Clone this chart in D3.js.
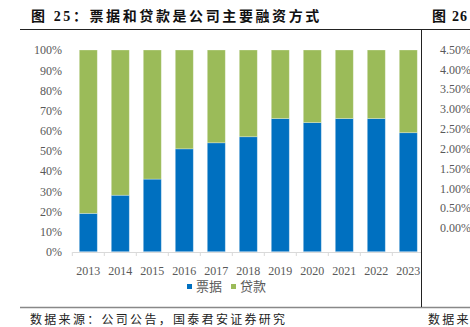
<!DOCTYPE html>
<html><head><meta charset="utf-8">
<script src="https://cdn.jsdelivr.net/npm/d3@7"></script>
<style>body{margin:0;background:#fff}svg{display:block}</style>
</head><body>
<script>
const years = ["2013","2014","2015","2016","2017","2018","2019","2020","2021","2022","2023"];
const bills = [19, 28, 36, 51, 54, 57, 66, 64, 66, 66, 59];
const loans = [81, 72, 64, 49, 46, 43, 34, 36, 34, 34, 41];
const seriesNames = ["票据", "贷款"];
const seriesColors = ["#0070C0", "#9BBB59"];
const yTicks = [0,10,20,30,40,50,60,70,80,90,100];
const rightTicks = [0,0.5,1,1.5,2,2.5,3,3.5,4,4.5];
const titleText = "图 25：票据和贷款是公司主要融资方式";
const title2Text = "图 26";
const sourceText = "数据来源：公司公告，国泰君安证券研究";
const source2Text = "数据来";

const W = 470, H = 327;
const svg = d3.select("body").append("svg").attr("width", W).attr("height", H);
const serif = "'Liberation Serif','Times New Roman','Noto Sans CJK SC',serif";
const gray = "#595959";

// frame lines
svg.append("line").attr("x1",20).attr("x2",W).attr("y1",29.5).attr("y2",29.5).attr("stroke","#222").attr("stroke-width",1);
svg.append("line").attr("x1",20).attr("x2",W).attr("y1",307.5).attr("y2",307.5).attr("stroke","#888").attr("stroke-width",1.5);
svg.append("line").attr("x1",421.5).attr("x2",421.5).attr("y1",29).attr("y2",307).attr("stroke","#222").attr("stroke-width",1);

// titles
svg.append("text").attr("x",31).attr("y",21).attr("font-family",serif).attr("font-weight","bold")
  .attr("font-size",14).attr("letter-spacing",2.6).attr("fill","#111").text(titleText);
svg.append("text").attr("x",432).attr("y",21).attr("font-family",serif).attr("font-weight","bold")
  .attr("font-size",14).attr("letter-spacing",1.2).attr("fill","#111").text(title2Text);
svg.append("text").attr("x",30).attr("y",324).attr("font-family",serif)
  .attr("font-size",12).attr("letter-spacing",2.3).attr("fill","#222").text(sourceText);
svg.append("text").attr("x",428).attr("y",324).attr("font-family",serif)
  .attr("font-size",12).attr("letter-spacing",2.3).attr("fill","#222").text(source2Text);

// left chart
svg.append("clipPath").attr("id","clipL").append("rect").attr("x",0).attr("y",30).attr("width",421).attr("height",276);
const g = svg.append("g").attr("clip-path","url(#clipL)");

const x = d3.scaleBand().domain(years).range([72.3, 424.3]).paddingInner(0.4375).paddingOuter(0.21875);
const y = d3.scaleLinear().domain([0,100]).range([251.7, 50]);

const stackData = years.map((yr,i)=>({year:yr, "票据":bills[i], "贷款":loans[i]}));
const stack = d3.stack().keys(seriesNames)(stackData);

g.selectAll("g.series").data(stack).join("g").attr("fill",(d,i)=>seriesColors[i])
  .selectAll("rect").data(d=>d).join("rect")
  .attr("x",d=>x(d.data.year)).attr("width",x.bandwidth())
  .attr("y",d=>y(d[1])).attr("height",d=>y(d[0])-y(d[1]))
  .attr("stroke","rgba(255,255,255,0.35)").attr("stroke-width",0.8);

// x axis
const xAxis = g.append("g").attr("transform","translate(0,252)")
  .call(d3.axisBottom(x).tickSize(0).tickPadding(14));
xAxis.select(".domain").attr("stroke","#d9d9d9");
xAxis.selectAll("text").attr("font-family",serif).attr("font-size",12).attr("fill",gray);
// band boundary ticks
const bounds = years.map(yr=>x(yr)-x.step()*x.paddingInner()/2).concat([x(years[years.length-1])+x.bandwidth()+x.step()*x.paddingInner()/2]);
g.selectAll("line.btick").data(bounds).join("line").attr("class","btick")
  .attr("x1",d=>d).attr("x2",d=>d).attr("y1",252).attr("y2",256).attr("stroke","#d9d9d9");

// y axis labels
const yAxis = svg.append("g").attr("transform","translate(62,0)")
  .call(d3.axisLeft(y).tickValues(yTicks).tickFormat(d=>d+"%").tickSize(0).tickPadding(0));
yAxis.select(".domain").remove();
yAxis.selectAll("text").attr("font-family",serif).attr("font-size",12).attr("fill",gray);

// legend
const legX = [187, 231];
seriesNames.forEach((n,i)=>{
  svg.append("rect").attr("x",legX[i]).attr("y",284).attr("width",5).attr("height",5).attr("fill",seriesColors[i]);
  svg.append("text").attr("x",legX[i]+9).attr("y",291).attr("font-family","'Noto Sans CJK SC',sans-serif")
    .attr("font-size",13).attr("fill",gray).text(n);
});

// right chart (cropped) axis labels
const y2 = d3.scaleLinear().domain([0,4.5]).range([228.3, 50]);
svg.append("g").selectAll("text").data(rightTicks).join("text")
  .attr("x",440).attr("y",d=>y2(d)).attr("dy","0.32em")
  .attr("font-family",serif).attr("font-size",12).attr("fill",gray)
  .text(d=>d.toFixed(2)+"%");
</script>
</body></html>
